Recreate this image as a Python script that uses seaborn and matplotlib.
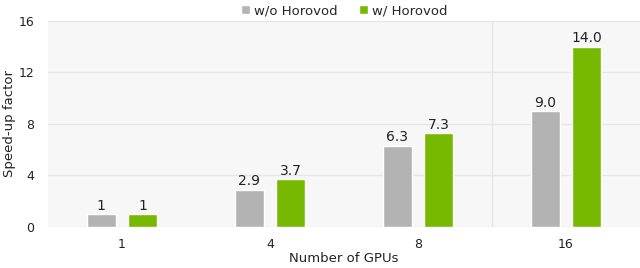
import matplotlib
matplotlib.use("Agg")
import matplotlib.pyplot as plt
import pandas as pd
import seaborn as sns

gpus = ["1", "4", "8", "16"]
without_horovod = [1, 2.9, 6.3, 9.0]
with_horovod = [1, 3.7, 7.3, 14.0]
labels_without = ["1", "2.9", "6.3", "9.0"]
labels_with = ["1", "3.7", "7.3", "14.0"]
series = ["w/o Horovod", "w/ Horovod"]

df = pd.DataFrame({
    "gpus": gpus * 2,
    "speedup": without_horovod + with_horovod,
    "series": [series[0]] * 4 + [series[1]] * 4,
})

sns.set_theme(style="white")
plt.rcParams['font.family'] = ['DejaVu Sans']

fig = plt.figure(figsize=(6.4, 2.68), dpi=100)
ax = fig.add_axes([0.075, 0.153, 0.925, 0.769])
ax.set_facecolor("#f7f7f7")

sns.barplot(data=df, x="gpus", y="speedup", hue="series", order=gpus,
            hue_order=series, palette=["#b3b3b3", "#76b900"],
            width=0.56, gap=0.3, saturation=1, ax=ax)

for cont, labs in zip(ax.containers, [labels_without, labels_with]):
    ax.bar_label(cont, labels=labs, padding=1, fontsize=10, color="#222222")

ax.set_ylim(0, 16)
ax.set_xlim(-0.5, 3.5)
ax.set_yticks([0, 4, 8, 12, 16])
ax.yaxis.grid(True, color="#e6e6e6", linewidth=1)
ax.set_axisbelow(True)
ax.axvline(2.5, color="#e6e6e6", linewidth=1, zorder=0)
for s in ax.spines.values():
    s.set_visible(False)
ax.tick_params(axis="both", length=0, labelsize=9, colors="#222222")
ax.tick_params(axis="x", pad=8)
ax.tick_params(axis="y", pad=10)
ax.set_xlabel("Number of GPUs", fontsize=9.5, color="#222222", labelpad=1)
ax.set_ylabel("Speed-up factor", fontsize=9.5, color="#222222")
ax.yaxis.set_label_coords(-0.054, 0.5)

ax.legend(loc="lower center", bbox_to_anchor=(0.5, 1.005), ncol=2, frameon=False,
          fontsize=9.5, handlelength=0.7, handleheight=0.7, handletextpad=0.3,
          columnspacing=1.6, borderaxespad=0, borderpad=0.2)

fig.savefig("out.png", dpi=100)
